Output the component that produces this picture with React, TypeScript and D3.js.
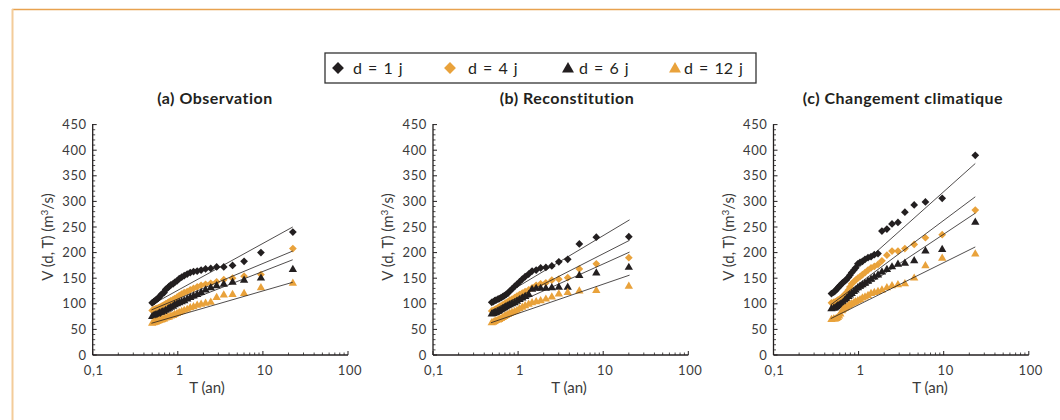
import React from 'react';
import * as d3 from 'd3';

// ---- data ----
const seriesLabels = ['d = 1 j', 'd = 4 j', 'd = 6 j', 'd = 12 j'];
const seriesColors = ['#231f20', '#e9a23b', '#231f20', '#e9a23b'];
const seriesShapes = ['diamond', 'diamond', 'triangle', 'triangle'];

const panelTitles = ['(a) Observation', '(b) Reconstitution', '(c) Changement climatique'];
const yTicks = [0, 50, 100, 150, 200, 250, 300, 350, 400, 450];
const xTicks = [0.1, 1, 10, 100];
const xTickLabels = ['0,1', '1', '10', '100'];

// return periods (years) of the ranked events
const obsT = [22.5, 9.48, 6.01, 4.4, 3.47, 2.86, 2.44, 2.12, 1.88, 1.69, 1.53, 1.4, 1.29, 1.19, 1.11, 1.04, 0.98,
  0.92, 0.88, 0.83, 0.79, 0.76, 0.72, 0.69, 0.66, 0.64, 0.61, 0.59, 0.57, 0.55, 0.53, 0.52, 0.5];
const recT = [20.0, 8.3, 5.24, 3.83, 3.01, 2.49, 2.12, 1.84, 1.63, 1.46, 1.33, 1.21, 1.12, 1.04, 0.97, 0.91, 0.85,
  0.8, 0.76, 0.72, 0.69, 0.66, 0.63, 0.6, 0.58, 0.55, 0.53, 0.51, 0.49];
const climT = [23.5, 9.6, 6.1, 4.5, 3.5, 2.9, 2.47, 2.15, 1.88, 1.69, 1.53, 1.4, 1.29, 1.19, 1.11, 1.04, 0.98,
  0.92, 0.88, 0.83, 0.79, 0.76, 0.72, 0.69, 0.66, 0.64, 0.61, 0.59, 0.57, 0.55, 0.53, 0.51, 0.48];

// (a) Observation
const obsD1 = [240, 200, 183, 175, 172, 172, 169, 168, 166, 164, 163, 161, 158, 155, 152, 149, 145, 142, 139, 137,
  134, 131, 128, 122, 120, 118, 114, 111, 109, 107, 105, 104, 102];
const obsD4 = [208, 157, 154, 150, 147, 143, 140, 138, 136, 133, 130, 127, 124, 122, 119, 116, 113, 110, 108, 106,
  104, 102, 100, 98, 96, 95, 93, 92, 91, 90, 89, 88, 87];
const obsD6 = [167, 150, 146, 142, 138, 135, 131, 127, 122, 118, 115, 112, 109, 106, 104, 102, 100, 98, 95, 93,
  91, 89, 87, 85, 84, 83, 82, 80, 79, 78, 77, 76, 75];
const obsD12 = [140, 131, 120, 118, 117, 112, 103, 101, 99, 97, 94, 92, 89, 87, 85, 83, 81, 79, 77, 76,
  74, 73, 72, 70, 69, 68, 67, 66, 65, 64, 64, 63, 62];

// (b) Reconstitution
const recD1 = [231, 230, 217, 187, 182, 174, 171, 170, 166, 164, 158, 153, 148, 143, 138, 134, 129, 125, 121, 118,
  116, 114, 112, 110, 109, 107, 106, 104, 103];
const recD4 = [190, 178, 168, 151, 148, 146, 141, 139, 136, 131, 127, 124, 121, 118, 115, 112, 109, 107, 104, 102,
  100, 98, 96, 94, 92, 90, 88, 87, 86];
const recD6 = [171, 160, 155, 132, 132, 131, 130, 130, 130, 128, 118, 114, 111, 108, 105, 102, 100, 98, 96, 94,
  92, 90, 88, 86, 85, 83, 82, 81, 80];
const recD12 = [134, 126, 125, 122, 119, 113, 109, 106, 104, 102, 99, 96, 93, 90, 87, 85, 83, 81, 79, 77,
  75, 73, 71, 69, 68, 67, 65, 64, 63];

// (c) Changement climatique
const climD1 = [390, 306, 299, 293, 279, 259, 256, 246, 242, 198, 196, 192, 190, 187, 183, 181, 178, 170, 166, 161,
  156, 152, 147, 145, 142, 140, 136, 134, 131, 128, 125, 123, 120];
const climD4 = [283, 235, 229, 216, 208, 203, 203, 195, 184, 177, 173, 170, 166, 161, 157, 153, 150, 146, 143, 139,
  133, 127, 122, 118, 115, 113, 110, 108, 107, 105, 104, 103, 102];
const climD6 = [259, 206, 203, 184, 179, 177, 172, 167, 162, 156, 152, 148, 144, 140, 137, 134, 131, 127, 124, 120,
  117, 114, 110, 107, 103, 101, 99, 97, 96, 94, 92, 91, 90];
const climD12 = [197, 189, 174, 150, 139, 137, 135, 131, 127, 124, 122, 120, 116, 113, 111, 108, 106, 104, 102, 100,
  98, 96, 93, 91, 89, 86, 80, 76, 73, 71, 70, 70, 69];

// fitted lines: [V at first T, V at last T] per duration
const obsFitT = [0.49, 22.4];
const obsFit = [[98, 250], [88, 203], [78, 186], [62, 142]];
const recFitT = [0.48, 20.4];
const recFit = [[102, 264], [86, 224], [79, 201], [63, 156]];
const climFitT = [0.47, 23.5];
const climFit = [[122, 374], [98, 309], [89, 277], [71, 211]];

const panelT = [obsT, recT, climT];
const panelSeries = [
  [obsD1, obsD4, obsD6, obsD12],
  [recD1, recD4, recD6, recD12],
  [climD1, climD4, climD6, climD12],
];
const panelFitT = [obsFitT, recFitT, climFitT];
const panelFit = [obsFit, recFit, climFit];

// ---- layout ----
const W = 1060;
const H = 420;
const FONT = 'Lato, "Open Sans", sans-serif';
const AXIS_LEFT = [92.7, 433, 773.5];
const PLOT_W = 255.3;
const Y_BOTTOM = 355;
const Y_TOP = 124.6;
const TITLE_X = [215, 567, 903];
const XLABEL_X = [207, 569, 930];
const LEGEND_MARK_X = [338, 450, 568, 675];
const LEGEND_TEXT_X = [353, 468, 579, 684];

const diamond = (size: number) => d3.symbol(d3.symbolSquare, size)() as string;
const triangle = (size: number) => d3.symbol(d3.symbolTriangle, size)() as string;

function Marker({ shape, x, y, color, big }: { shape: string; x: number; y: number; color: string; big?: boolean }) {
  if (shape === 'diamond') {
    return <path d={diamond(big ? 70 : 30)} transform={`translate(${x},${y}) rotate(45)`} fill={color} />;
  }
  return <path d={triangle(big ? 62 : 30)} transform={`translate(${x},${y})`} fill={color} />;
}

function Panel({ idx }: { idx: number }) {
  const x0 = AXIS_LEFT[idx];
  const x = d3.scaleLog().domain([0.1, 100]).range([x0, x0 + PLOT_W]);
  const y = d3.scaleLinear().domain([0, 450]).range([Y_BOTTOM, Y_TOP]);
  const T = panelT[idx];
  const fitT = panelFitT[idx];

  // minor ticks
  const xMinor: number[] = [];
  [0.1, 1, 10].forEach(dec => d3.range(2, 10).forEach(k => xMinor.push(dec * k)));
  const yMinor = d3.range(0, 451, 10).filter(v => v % 50 !== 0);

  const line = d3.line<[number, number]>().x(d => x(d[0])).y(d => y(d[1]));
  const axisColor = '#231f20';

  return (
    <g>
      <text x={TITLE_X[idx]} y={104} textAnchor="middle" fontFamily={FONT} fontWeight={700}
        fontSize={16} letterSpacing={0.5} fill="#231f20">{panelTitles[idx]}</text>

      {/* axes */}
      <line x1={x0} x2={x0} y1={Y_TOP - 0.5} y2={Y_BOTTOM} stroke={axisColor} strokeWidth={1.3} />
      <line x1={x0} x2={x0 + PLOT_W} y1={Y_BOTTOM} y2={Y_BOTTOM} stroke={axisColor} strokeWidth={1.3} />
      {yTicks.map(v => (
        <g key={'yt' + v}>
          <line x1={x0} x2={x0 + 4} y1={y(v)} y2={y(v)} stroke={axisColor} strokeWidth={1} />
          <text x={x0 - 6} y={y(v)} dy="0.35em" textAnchor="end" fontFamily={FONT} fontSize={13}
            letterSpacing={0.6} fill="#3b3b3b">{v}</text>
        </g>
      ))}
      {yMinor.map(v => (
        <line key={'ym' + v} x1={x0} x2={x0 + 2.5} y1={y(v)} y2={y(v)} stroke={axisColor} strokeWidth={0.8} />
      ))}
      {xTicks.map((v, i) => (
        <g key={'xt' + v}>
          <line x1={x(v)} x2={x(v)} y1={Y_BOTTOM} y2={Y_BOTTOM - 4} stroke={axisColor} strokeWidth={1} />
          <text x={x(v) + (i === 0 ? 1 : 2)} y={375} textAnchor="middle" fontFamily={FONT} fontSize={13}
            letterSpacing={0.6} fill="#3b3b3b">{xTickLabels[i]}</text>
        </g>
      ))}
      {xMinor.map(v => (
        <line key={'xm' + v} x1={x(v)} x2={x(v)} y1={Y_BOTTOM} y2={Y_BOTTOM - 2.5} stroke={axisColor} strokeWidth={0.8} />
      ))}
      <text x={XLABEL_X[idx]} y={393} textAnchor="middle" fontFamily={FONT} fontSize={15} fill="#3b3b3b">T (an)</text>
      <text transform={`translate(${x0 - 45},${237}) rotate(-90)`} textAnchor="middle" dy="0.35em"
        fontFamily={FONT} fontSize={15} fill="#3b3b3b">
        V (d, T) (m<tspan dy={-5} fontSize={10}>3</tspan><tspan dy={5}>/s)</tspan>
      </text>

      {/* points */}
      {panelSeries[idx].map((vals, s) => (
        <g key={'s' + s}>
          {vals.map((v, i) => (
            <Marker key={i} shape={seriesShapes[s]} x={x(T[i])} y={y(v)} color={seriesColors[s]} />
          ))}
        </g>
      ))}

      {/* fitted lines */}
      {panelFit[idx].map((f, s) => (
        <path key={'f' + s} d={line([[fitT[0], f[0]], [fitT[1], f[1]]]) as string}
          stroke="#231f20" strokeWidth={0.8} fill="none" />
      ))}
    </g>
  );
}

export default function App() {
  return (
    <svg width={W} height={H} viewBox={`0 0 ${W} ${H}`}
      style={{ position: 'absolute', left: 0, top: 0, background: '#fff' }}>
      <rect x={0} y={0} width={W} height={H} fill="#fff" />
      <line x1={12} x2={W} y1={9.5} y2={9.5} stroke="#e8a24f" strokeWidth={1.5} />
      <line x1={12.5} x2={12.5} y1={9} y2={H} stroke="#f3cc9a" strokeWidth={2} />

      {/* legend */}
      <rect x={325} y={53} width={431} height={30} fill="none" stroke="#333" strokeWidth={1.3} />
      {seriesLabels.map((lab, i) => (
        <g key={lab}>
          <Marker shape={seriesShapes[i]} x={LEGEND_MARK_X[i]} y={seriesShapes[i] === 'triangle' ? 69 : 68}
            color={seriesColors[i]} big />
          <text x={LEGEND_TEXT_X[i]} y={73.5} fontFamily={FONT} fontSize={16} fill="#231f20"
            wordSpacing={2}>{lab}</text>
        </g>
      ))}

      {panelTitles.map((_, i) => <Panel key={i} idx={i} />)}
    </svg>
  );
}
